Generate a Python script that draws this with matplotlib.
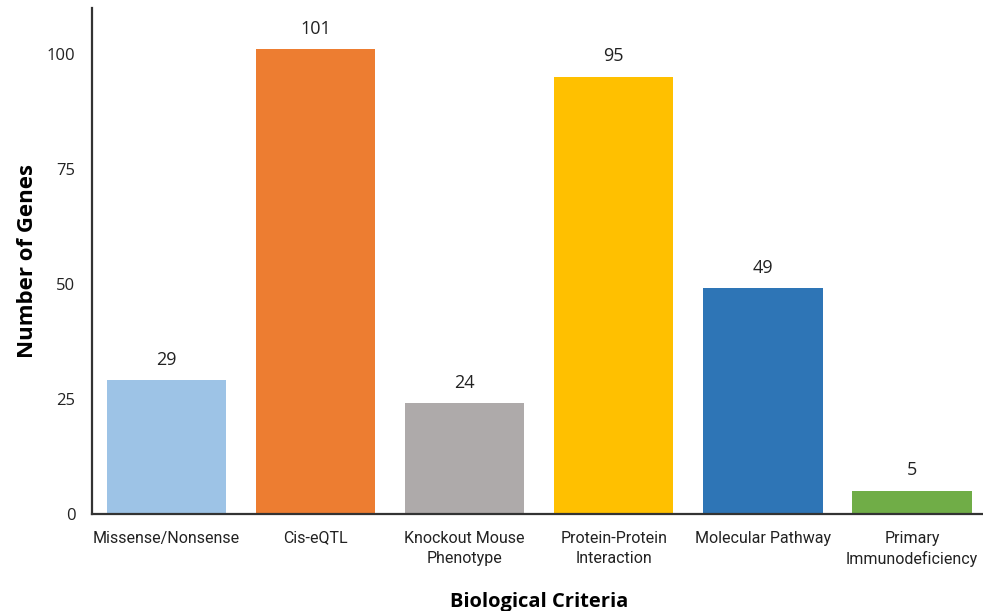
import matplotlib.pyplot as plt


# =========================
# Data
# =========================
criteria = [
    "Missense/Nonsense",
    "Cis-eQTL",
    "Knockout Mouse\nPhenotype",
    "Protein-Protein\nInteraction",
    "Molecular Pathway",
    "Primary\nImmunodeficiency",
]
gene_counts = [29, 101, 24, 95, 49, 5]
bar_colors = ["#9DC3E6", "#ED7D31", "#AEAAAA", "#FFC000", "#2E75B6", "#70AD47"]
y_ticks = [0, 25, 50, 75, 100]


# =========================
# Plot
# =========================
fig = plt.figure(figsize=(9.83, 6.11), dpi=100)
ax = fig.add_axes([0.0936, 0.159, 0.91, 0.828])

positions = range(len(criteria))
bars = ax.bar(positions, gene_counts, width=0.8, color=bar_colors)

for bar, count in zip(bars, gene_counts):
    ax.text(bar.get_x() + bar.get_width() / 2, count + 2.5, str(count),
            ha="center", va="bottom", fontsize=13, family=["Open Sans", "DejaVu Sans"],
            color="#222222")

ax.set_xlim(-0.5, 5.5)
ax.set_ylim(0, 110)
ax.set_yticks(y_ticks)
ax.set_xticks(list(positions))
ax.set_xticklabels(criteria, fontsize=11.5, linespacing=1.45,
                   family=["Roboto", "DejaVu Sans"], color="#222222")
for lbl in ax.get_yticklabels():
    lbl.set_fontsize(12)
    lbl.set_family(["Open Sans", "DejaVu Sans"])
    lbl.set_color("#222222")
ax.tick_params(axis="both", length=0)
ax.tick_params(axis="y", pad=12)
ax.tick_params(axis="x", pad=12)

for side in ["top", "right"]:
    ax.spines[side].set_visible(False)
for side in ["left", "bottom"]:
    ax.spines[side].set_color("#333333")
    ax.spines[side].set_linewidth(1.6)

ax.set_ylabel("Number of Genes", fontsize=16, fontweight="bold",
              family=["Open Sans", "DejaVu Sans"], labelpad=6)
ax.set_xlabel("Biological Criteria", fontsize=14.5, fontweight="bold",
              family=["Open Sans", "DejaVu Sans"], labelpad=18)

fig.savefig("out.png", dpi=100)
